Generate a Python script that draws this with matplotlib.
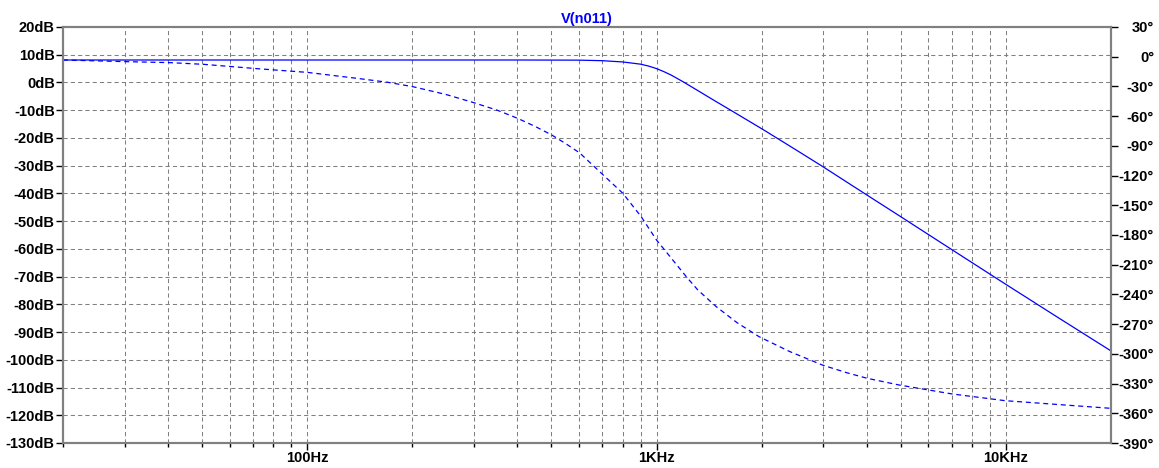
import matplotlib.pyplot as plt
import numpy as np
from matplotlib.ticker import FixedLocator, NullFormatter

# magnitude (solid)
freq_mag = [20, 50, 100, 200, 400, 600, 700, 800, 900, 950, 1000, 1050, 1100,
            1186, 1300, 1450, 1671, 2014, 2500, 2972, 3970, 4890, 6950, 9860,
            14000, 20000]
mag_db = [8.1, 8.1, 8.1, 8.1, 8.1, 8.05, 7.85, 7.4, 6.6, 5.9, 5.0, 3.9, 2.7,
          0.4, -2.6, -6.2, -10.8, -16.9, -24.2, -30.1, -40.3, -47.6, -60.0,
          -72.3, -84.5, -96.8]

# phase (dashed)
freq_phase = [20, 30.5, 40.6, 50.6, 70.3, 100, 138.7, 170, 201, 250, 298, 350,
              401, 450, 500, 550, 603, 650, 750, 801, 850, 904, 950, 1000, 1100,
              1217, 1313, 1400, 1483, 1700, 1967, 2400, 2985, 3500, 4012, 4940,
              7020, 9970, 20000]
phase_deg = [-3.3, -5.0, -6.0, -7.7, -11.8, -15.8, -21.8, -25.8, -30.3, -38.2,
             -46.1, -54.0, -62.3, -70.5, -78.8, -87.8, -97.2, -108.0, -128.5,
             -137.9, -149.5, -161.5, -173.1, -185.0, -203.0, -222.1, -235.5,
             -244.4, -252.4, -268.5, -282.7, -297.5, -311.3, -319.0, -324.7,
             -331.4, -340.5, -347.3, -355.0]

db_ticks = list(range(-130, 21, 10))
deg_ticks = list(range(-390, 31, 30))
major_freqs = [100, 1000, 10000]
major_labels = ["100Hz", "1KHz", "10KHz"]
minor_freqs = [20, 30, 40, 50, 60, 70, 80, 90, 200, 300, 400, 500, 600, 700,
               800, 900, 2000, 3000, 4000, 5000, 6000, 7000, 8000, 9000]

plt.rcParams['font.family'] = ['Liberation Sans', 'DejaVu Sans']
plt.rcParams['font.weight'] = 'bold'

trace = '#0000ff'
grid_col = '#808080'
fs = 10.5

fig = plt.figure(figsize=(11.59, 4.68), dpi=100)
ax = fig.add_axes([63 / 1159, 25 / 468, (1111 - 63) / 1159, (443 - 27) / 468])

ax.set_xscale('log')
ax.set_xlim(20, 20000)
ax.set_ylim(-130, 20)
ax.xaxis.set_major_locator(FixedLocator(major_freqs))
ax.xaxis.set_minor_locator(FixedLocator(minor_freqs))
ax.set_xticklabels(major_labels)
ax.xaxis.set_minor_formatter(NullFormatter())
ax.set_yticks(db_ticks)
ax.set_yticklabels([f"{v}dB" for v in db_ticks])

ax.grid(True, which='both', axis='x', color=grid_col, linestyle=(0, (4, 3)), linewidth=0.75)
ax.grid(True, which='major', axis='y', color=grid_col, linestyle=(0, (4, 3)), linewidth=0.75)

ax.plot(freq_mag, mag_db, color=trace, linewidth=0.9, zorder=3)

ax.tick_params(axis='both', which='major', direction='out', length=5, width=1,
               colors='black', labelsize=fs, pad=1)
ax.tick_params(axis='x', which='minor', direction='out', length=3, width=1, colors='black')
for s in ax.spines.values():
    s.set_color(grid_col)
    s.set_linewidth(1.5)

ax2 = ax.twinx()
ax2.set_ylim(-390, 30)
ax2.set_yticks(deg_ticks)
ax2.set_yticklabels([f"{v}\u00b0" for v in deg_ticks])
ax2.tick_params(axis='y', direction='out', length=5, width=1, colors='black',
                labelsize=fs, pad=26)
for lab in ax2.get_yticklabels():
    lab.set_horizontalalignment('right')
ax2.plot(freq_phase, phase_deg, color=trace, linewidth=0.9, linestyle=(0, (4, 3)))
for s in ax2.spines.values():
    s.set_color(grid_col)
    s.set_linewidth(1.5)

ax.set_title("V(n011)", color=trace, fontsize=fs, fontweight='bold', pad=3)

fig.savefig("out.png", dpi=100)
